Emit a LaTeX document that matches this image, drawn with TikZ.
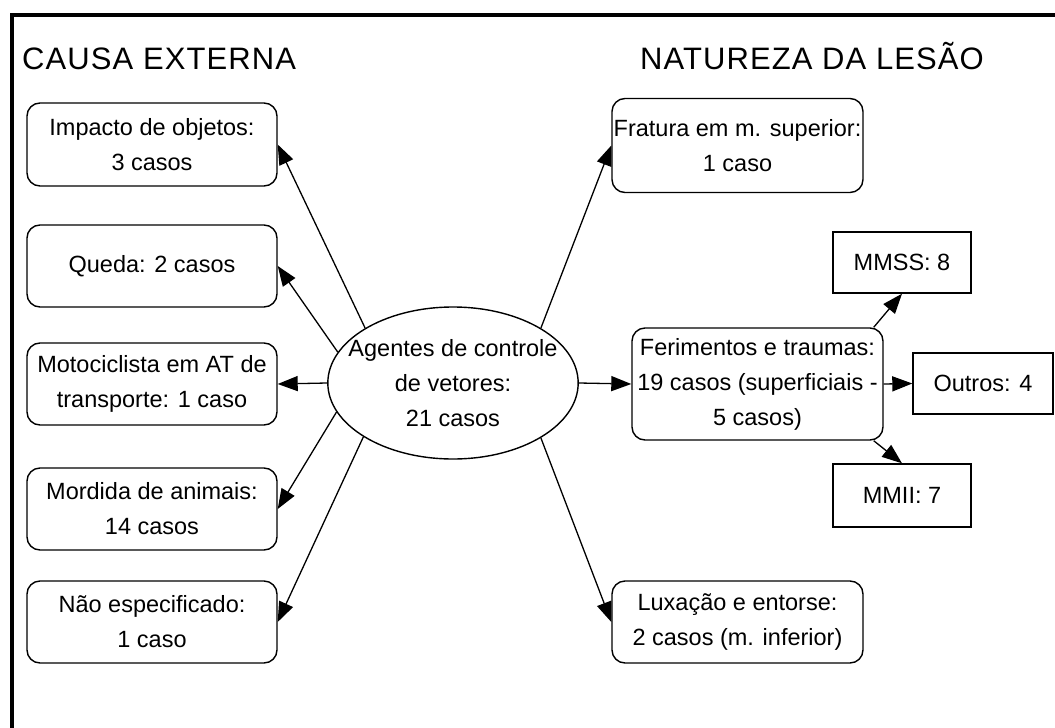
\documentclass[tikz,border=0pt]{standalone}
\usepackage{fontspec}
\setmainfont{Liberation Sans}
\newfontfamily\titlefont[LetterSpace=3.5]{Liberation Sans}
\usetikzlibrary{arrows.meta,shapes.geometric}
\begin{document}
\begin{tikzpicture}[x=1pt,y=-1pt,
  every node/.style={font=\fontsize{23.5}{35}\selectfont, align=center, inner sep=0pt},
  rbox/.style={draw, line width=1.4pt, rounded corners=13pt},
  sbox/.style={draw, line width=1.4pt},
  titletext/.style={font=\titlefont\fontsize{31}{36}\selectfont, anchor=base west},
  conn/.style={line width=1.3pt, -{Triangle[length=20pt,width=15pt]}}]
\useasboundingbox (0,0) rectangle (1055,728);
\draw[line width=4.5pt] (12,728) -- (12,15) -- (1055,15);
\node[titletext] (t1) at (22,69) {CAUSA EXTERNA};
\node[titletext] (t2) at (640,69) {NATUREZA DA LESÃO};
\node[draw, line width=1.4pt, ellipse, inner xsep=-16pt, inner ysep=0pt, minimum width=250pt, minimum height=152pt] (ag) at (453,383) {Agentes de controle\\de vetores:\\21 casos};
\node[rbox, minimum width=250pt, minimum height=83pt] (imp) at (152,144.5) {Impacto de objetos:\\3 casos};
\node[rbox, minimum width=250pt, minimum height=82pt] (qued) at (152,266) {Queda: 2 casos};
\node[rbox, minimum width=250pt, minimum height=82pt] (moto) at (152,384) {Motociclista em AT de\\transporte: 1 caso};
\node[rbox, minimum width=250pt, minimum height=82pt] (mord) at (152,509) {Mordida de animais:\\14 casos};
\node[rbox, minimum width=250pt, minimum height=82pt] (nao) at (152,622) {Não especificado:\\1 caso};
\node[rbox, minimum width=251pt, minimum height=94pt] (frat) at (737.5,145.5) {Fratura em m. superior:\\1 caso};
\node[rbox, minimum width=251pt, minimum height=112pt] (fer) at (757.5,384) {Ferimentos e traumas:\\19 casos (superficiais -\\5 casos)};
\node[rbox, minimum width=251pt, minimum height=82pt] (lux) at (737.5,622) {Luxação e entorse:\\2 casos (m. inferior)};
\node[sbox, minimum width=138pt, minimum height=61pt] (mmss) at (902,262.5) {MMSS: 8};
\node[sbox, minimum width=140pt, minimum height=61pt] (outr) at (983,383.5) {Outros: 4};
\node[sbox, minimum width=138pt, minimum height=63pt] (mmii) at (902,495.5) {MMII: 7};
\draw[conn] (ag.148.5) -- (imp.east);
\draw[conn] (ag.165.4) -- (qued.east);
\draw[conn] (ag.west) -- (moto.east);
\draw[conn] (ag.194.6) -- (mord.east);
\draw[conn] (ag.211.5) -- (nao.east);
\draw[conn] (ag.32.3) -- (frat.west);
\draw[conn] (ag.east) -- (fer.west);
\draw[conn] (ag.-32.3) -- (lux.west);
\draw[conn] ([xshift=-10pt]fer.north east) -- (mmss.south);
\draw[conn] (fer.east) -- (outr.west);
\draw[conn] ([xshift=-10pt]fer.south east) -- (mmii.north);
\end{tikzpicture}
\end{document}
